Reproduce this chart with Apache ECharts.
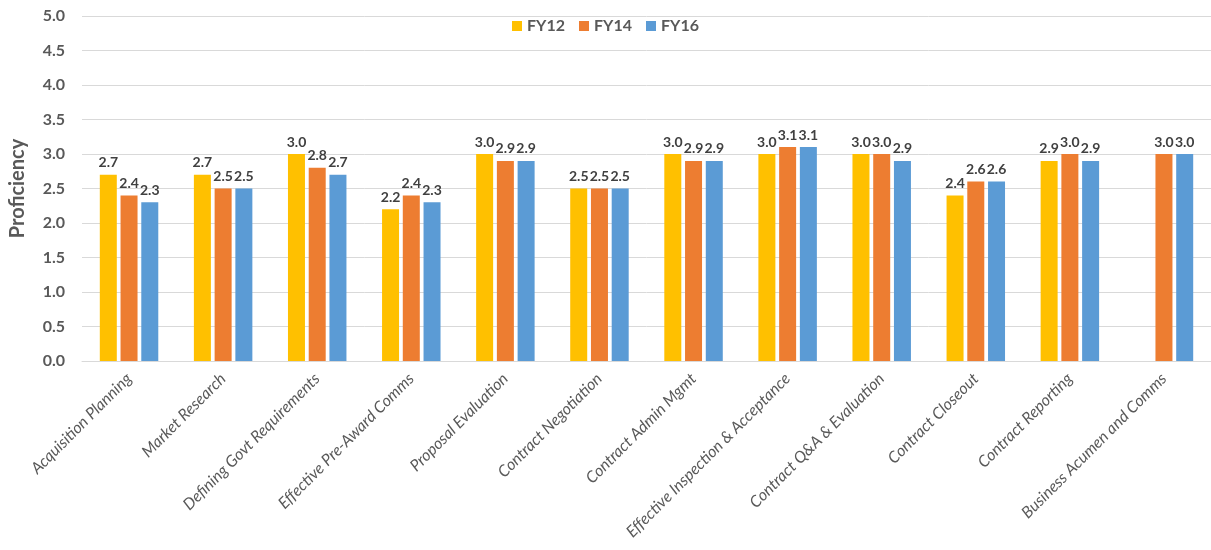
<!DOCTYPE html>
<html>
<head>
<meta charset="utf-8">
<script src="https://cdn.jsdelivr.net/npm/echarts@6/dist/echarts.min.js"></script>
<style>
  html, body { margin: 0; padding: 0; background: #fff; }
  #chart { width: 1211px; height: 550px; }
</style>
</head>
<body>
<div id="chart"></div>
<script>
// categories and values
const categories = [
  'Acquisition Planning', 'Market Research', 'Defining Govt Requirements',
  'Effective Pre-Award Comms', 'Proposal Evaluation', 'Contract Negotiation',
  'Contract Admin Mgmt', 'Effective Inspection & Acceptance',
  'Contract Q&A & Evaluation', 'Contract Closeout', 'Contract Reporting',
  'Business Acumen and Comms'
];
const fy12 = [2.7, 2.7, 3.0, 2.2, 3.0, 2.5, 3.0, 3.0, 3.0, 2.4, 2.9, null];
const fy14 = [2.4, 2.5, 2.8, 2.4, 2.9, 2.5, 2.9, 3.1, 3.0, 2.6, 3.0, 3.0];
const fy16 = [2.3, 2.5, 2.7, 2.3, 2.9, 2.5, 2.9, 3.1, 2.9, 2.6, 2.9, 3.0];
const colors = ['#FFC000', '#ED7D31', '#5B9BD5'];

const font = 'Lato, "Open Sans", sans-serif';

function barSeries(name, data) {
  return {
    name: name,
    type: 'bar',
    data: data,
    barWidth: 17,
    barGap: '22%',
    label: {
      show: true,
      position: 'top',
      distance: 5,
      fontFamily: font,
      fontWeight: 'bold',
      fontSize: 14,
      color: '#404040',
      formatter: p => p.value == null ? '' : p.value.toFixed(1)
    }
  };
}

const chart = echarts.init(document.getElementById('chart'));
chart.setOption({
  animation: false,
  color: colors,
  textStyle: { fontFamily: font },
  legend: {
    top: 13,
    left: 'center',
    itemWidth: 10,
    itemHeight: 10,
    itemGap: 14,
    icon: 'rect',
    textStyle: { fontFamily: font, fontWeight: 'bold', fontSize: 16, color: '#595959' }
  },
  grid: { left: 78, right: -5, top: 16, bottom: 189 },
  xAxis: {
    type: 'category',
    data: categories,
    axisLine: { lineStyle: { color: '#D9D9D9' } },
    axisTick: { show: false },
    axisLabel: {
      rotate: 45,
      interval: 0,
      margin: 15,
      fontFamily: font,
      fontStyle: 'italic',
      fontSize: 16,
      color: '#595959'
    }
  },
  yAxis: {
    type: 'value',
    min: 0,
    max: 5,
    interval: 0.5,
    name: 'Proficiency',
    nameLocation: 'middle',
    nameGap: 54,
    nameTextStyle: { fontFamily: font, fontWeight: 'bold', fontSize: 20, color: '#595959' },
    axisLine: { show: false },
    axisTick: { show: false },
    splitLine: { lineStyle: { color: '#D9D9D9' } },
    axisLabel: {
      margin: 17,
      fontFamily: font,
      fontWeight: 'bold',
      fontSize: 16,
      color: '#595959',
      formatter: v => v.toFixed(1)
    }
  },
  series: [
    barSeries('FY12', fy12),
    barSeries('FY14', fy14),
    barSeries('FY16', fy16)
  ]
});

window.onresize = function () {
  chart.resize();
};
</script>
</body>
</html>
